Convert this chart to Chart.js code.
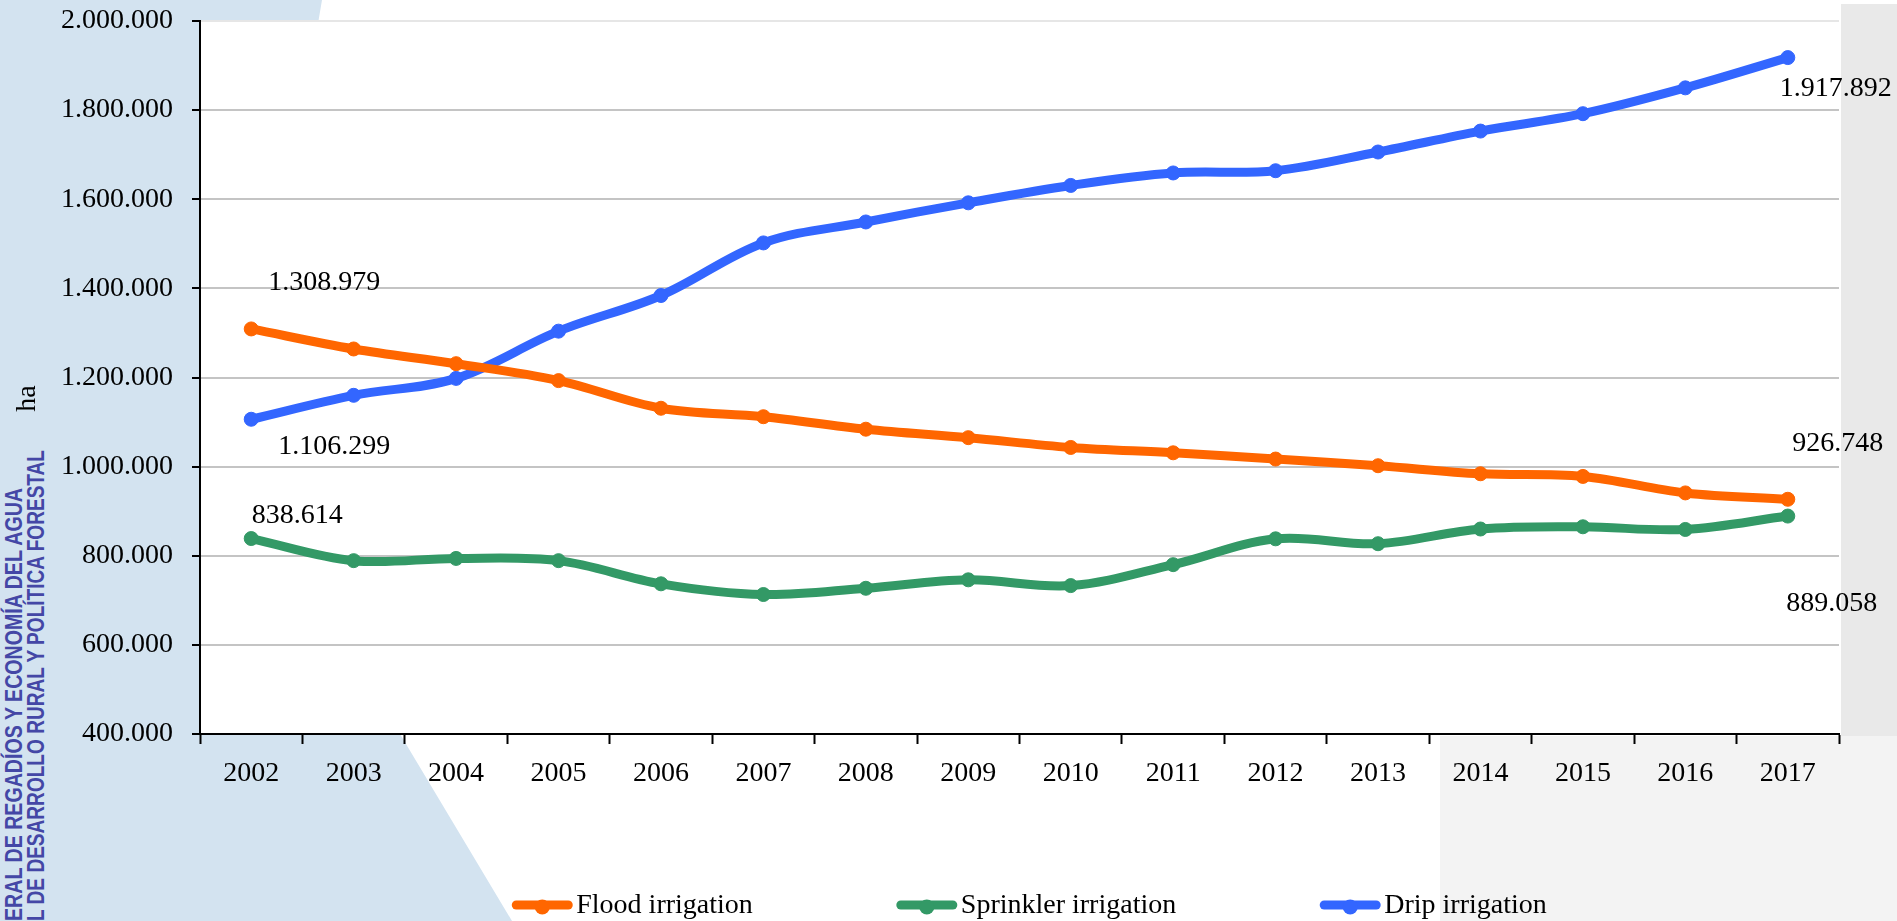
<!DOCTYPE html>
<html lang="en">
<head>
<meta charset="utf-8">
<title>Irrigated area by system 2002-2017</title>
<script src="https://cdn.jsdelivr.net/npm/chart.js@4.4.1/dist/chart.umd.min.js"></script>
<style>
  html, body { margin: 0; padding: 0; }
  body { width: 1897px; height: 921px; overflow: hidden; position: relative; background: #fff; }
  #backdrop { position: absolute; left: 0; top: 0; }
  #wrap { position: absolute; left: 0; top: 0; width: 1897px; height: 921px; }
</style>
</head>
<body>
<svg id="backdrop" width="1897" height="921">
  <path d="M0 0 H322 Q250 400 400 734 L512 921 H0 Z" fill="#d3e3f0"/>
  <rect x="1841" y="4" width="56" height="917" fill="#e9e9e9"/>
  <rect x="1440" y="736" width="457" height="185" fill="#f3f3f3"/>
  <g font-family="Liberation Sans, Arial, sans-serif" font-weight="bold" font-size="24" fill="#4447a6">
    <text transform="translate(22 921) rotate(-90)" textLength="433" lengthAdjust="spacingAndGlyphs">ERAL DE REGADÍOS Y ECONOMÍA DEL AGUA</text>
    <text transform="translate(44 921) rotate(-90)" textLength="471" lengthAdjust="spacingAndGlyphs">L DE DESARROLLO RURAL Y POLÍTICA FORESTAL</text>
  </g>
</svg>
<div id="wrap"><canvas id="irrigationChart"></canvas></div>
<script>
// --- datos (ha) ---
const years = ["2002", "2003", "2004", "2005", "2006", "2007", "2008", "2009",
               "2010", "2011", "2012", "2013", "2014", "2015", "2016", "2017"];

const floodIrrigation = [1308979, 1264000, 1231000, 1193000, 1131000, 1112000, 1084000, 1065000,
                         1043000, 1031000, 1017000, 1002000, 984000, 978000, 941000, 926748];
const sprinklerIrrigation = [838614, 789000, 794000, 789000, 737000, 713000, 727000, 746000,
                             733000, 780000, 838000, 827000, 860000, 865000, 859000, 889058];
const dripIrrigation = [1106299, 1160000, 1198000, 1304000, 1384000, 1502000, 1549000, 1592000,
                        1631000, 1659000, 1664000, 1706000, 1753000, 1792000, 1850000, 1917892];

const seriesNames = ["Flood irrigation", "Sprinkler irrigation", "Drip irrigation"];
const seriesColors = ["#ff6600", "#339966", "#3366ff"];

const yMin = 400000;
const yMax = 2000000;
const yStep = 200000;

const SERIF = '"Liberation Serif", "Times New Roman", serif';

// 1.308.979 style
const fmt = v => String(Math.round(v)).replace(/\B(?=(\d{3})+(?!\d))/g, ".");

// white plot background over the page decoration
const plotBackground = {
    id: "plotBackground",
    beforeDraw(chart) {
        const { ctx, chartArea: a } = chart;
        ctx.save();
        ctx.fillStyle = "#ffffff";
        ctx.fillRect(a.left, a.top, a.right - a.left, a.bottom - a.top);
        ctx.restore();
    }
};

// values written next to the first and last point of each line
const endLabels = {
    id: "endLabels",
    afterDatasetsDraw(chart, args, opts) {
        const ctx = chart.ctx;
        ctx.save();
        ctx.font = opts.font;
        ctx.fillStyle = "#000";
        ctx.textAlign = "center";
        ctx.textBaseline = "middle";
        chart.data.datasets.forEach((ds, i) => {
            const pts = chart.getDatasetMeta(i).data;
            const [first, last] = opts.offsets[i];
            const a = pts[0];
            const b = pts[pts.length - 1];
            ctx.fillText(fmt(ds.data[0]), a.x + first[0], a.y + first[1]);
            ctx.fillText(fmt(ds.data[ds.data.length - 1]), b.x + last[0], b.y + last[1]);
        });
        ctx.restore();
    }
};

// excel-like legend: thick line with a dot, then the name
const lineLegend = {
    id: "lineLegend",
    afterDraw(chart, args, opts) {
        const { ctx, chartArea } = chart;
        ctx.save();
        ctx.font = opts.font;
        const items = chart.data.datasets.map(ds => ({
            ds,
            w: opts.markerWidth + opts.textGap + ctx.measureText(ds.label).width
        }));
        const total = items.reduce((s, it) => s + it.w, 0) + opts.gap * (items.length - 1);
        let x = (chartArea.left + chartArea.right) / 2 + opts.shift - total / 2;
        const y = chart.height - opts.bottom;
        items.forEach(({ ds, w }) => {
            ctx.strokeStyle = ds.borderColor;
            ctx.lineWidth = 9;
            ctx.lineCap = "round";
            ctx.beginPath();
            ctx.moveTo(x + 4, y);
            ctx.lineTo(x + opts.markerWidth - 4, y);
            ctx.stroke();
            ctx.fillStyle = ds.borderColor;
            ctx.beginPath();
            ctx.arc(x + opts.markerWidth / 2, y + 2, 7.5, 0, Math.PI * 2);
            ctx.fill();
            ctx.fillStyle = "#000";
            ctx.textAlign = "left";
            ctx.textBaseline = "alphabetic";
            ctx.fillText(ds.label, x + opts.markerWidth + opts.textGap, y + 8);
            x += w + opts.gap;
        });
        ctx.restore();
    }
};

function lineSet(label, data, color) {
    return {
        label,
        data,
        borderColor: color,
        backgroundColor: color,
        borderWidth: 9,
        tension: 0.35,
        pointRadius: 7,
        pointBorderWidth: 1,
        pointBackgroundColor: color,
        pointBorderColor: color,
        fill: false
    };
}

new Chart(document.getElementById("irrigationChart"), {
    type: "line",
    data: {
        labels: years,
        datasets: [
            lineSet(seriesNames[0], floodIrrigation, seriesColors[0]),
            lineSet(seriesNames[1], sprinklerIrrigation, seriesColors[1]),
            lineSet(seriesNames[2], dripIrrigation, seriesColors[2])
        ]
    },
    options: {
        responsive: true,
        maintainAspectRatio: false,
        animation: false,
        events: [],
        layout: {
            autoPadding: false,
            padding: { top: 21, right: 58, bottom: 117, left: 0 }
        },
        plugins: {
            legend: { display: false },
            tooltip: { enabled: false },
            endLabels: {
                font: "28px " + SERIF,
                // [first, last] offsets from the point, per series
                offsets: [
                    [[73, -46], [50, -56]],
                    [[46, -23], [44, 88]],
                    [[83, 27], [48, 31]]
                ]
            },
            lineLegend: {
                font: "28px " + SERIF,
                markerWidth: 60,
                textGap: 4,
                gap: 144,
                shift: 10,
                bottom: 16
            }
        },
        scales: {
            x: {
                offset: true,
                grid: {
                    offset: true,
                    drawOnChartArea: false,
                    tickLength: 10,
                    tickColor: "#000",
                    tickWidth: 2
                },
                border: { color: "#000", width: 2 },
                ticks: {
                    color: "#000",
                    font: { family: SERIF, size: 28 },
                    padding: 13,
                    maxRotation: 0,
                    autoSkip: false
                },
                afterFit(scale) { scale.height = 70; }
            },
            y: {
                min: yMin,
                max: yMax,
                grid: {
                    color: ctx => (ctx.tick && ctx.tick.value === yMax ? "#e6e6e6" : "#c4c4c4"),
                    lineWidth: 2,
                    tickLength: 8,
                    tickColor: "#000",
                    tickWidth: 2
                },
                border: { color: "#000", width: 2 },
                ticks: {
                    stepSize: yStep,
                    color: "#000",
                    font: { family: SERIF, size: 28 },
                    padding: 19,
                    callback: v => fmt(v)
                },
                title: {
                    display: true,
                    text: "ha      ",
                    color: "#000",
                    font: { family: SERIF, size: 28 },
                    padding: { top: 11, bottom: 0 }
                },
                afterFit(scale) {
                    scale.width = 200;
                    // tick padding also pads the top; the layout padding handles that
                    scale.paddingTop = 0;
                    scale.paddingBottom = 0;
                }
            }
        }
    },
    plugins: [plotBackground, endLabels, lineLegend]
});
</script>
</body>
</html>
